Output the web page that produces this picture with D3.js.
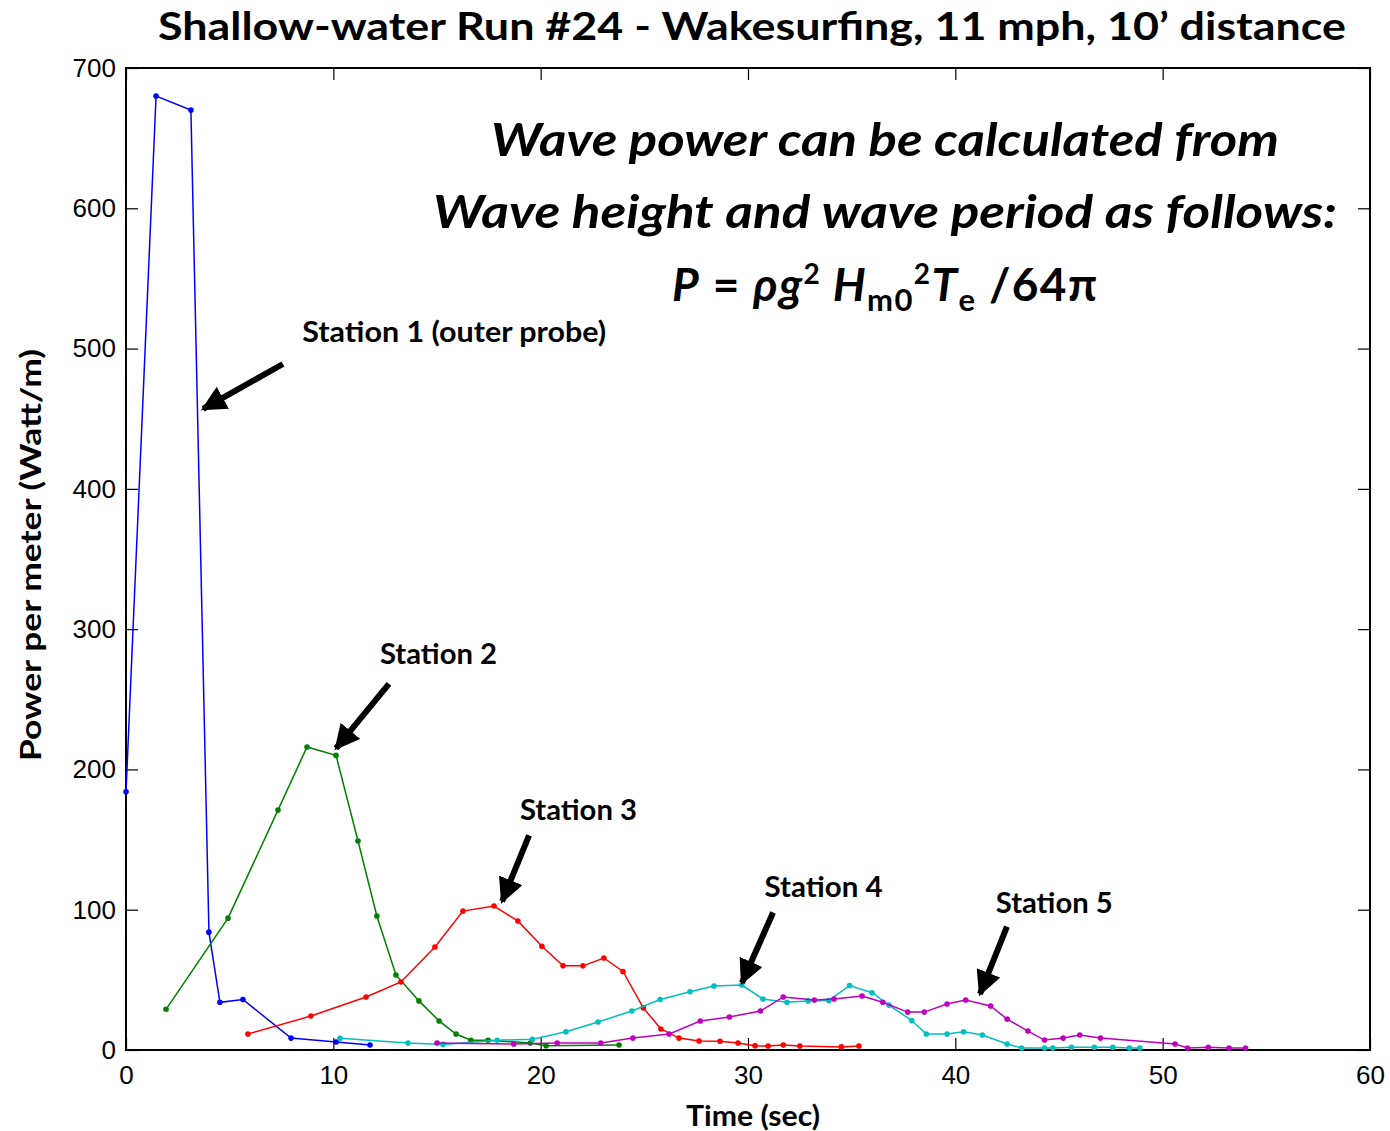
<!DOCTYPE html>
<html>
<head>
<meta charset="utf-8">
<script src="https://cdn.jsdelivr.net/npm/d3@7"></script>
<style>
  body { margin: 0; background: #fff; }
  .tick text { font-family: "Liberation Sans", Arial, sans-serif; font-size: 26px; }
  .cal { font-family: Lato, "Open Sans", sans-serif; font-weight: 700; }
</style>
</head>
<body>
<div id="chart"></div>
<script>
// Station 1 (outer probe)
var t1 = [0, 1.45, 3.13, 4.0, 4.53, 5.64, 7.96, 10.13, 11.77];
var p1 = [184, 680, 670, 84, 34, 36, 8.5, 5.7, 3.6];
// Station 2
var t2 = [1.93, 4.92, 7.33, 8.73, 10.13, 11.19, 12.1, 13.02, 14.13, 15.1, 15.92, 16.64, 17.46, 19.5, 20.26, 23.78];
var p2 = [29, 94, 171, 216, 210, 149, 95.5, 53.5, 35, 20.7, 11.4, 7, 7, 5, 3, 3.6];
// Station 3
var t3 = [5.88, 8.92, 11.58, 13.26, 14.9, 16.25, 17.75, 18.9, 20.06, 21.08, 22.04, 23.05, 23.97, 24.95, 25.8, 26.67, 27.64, 28.65, 29.52, 30.34, 30.97, 31.7, 32.5, 34.5, 35.35];
var p3 = [11.4, 24.2, 37.8, 48.5, 73.4, 99, 102.6, 92, 74, 60, 60, 65.6, 56, 30, 15, 8.5, 6.4, 6.2, 5, 3, 2.8, 3.5, 2.8, 2.2, 2.8];
// Station 4
var t4 = [10.32, 13.6, 15.29, 17.9, 19.6, 21.22, 22.77, 24.4, 25.76, 27.2, 28.36, 29.7, 30.72, 31.88, 32.9, 33.9, 34.9, 35.98, 36.8, 37.9, 38.6, 39.6, 40.4, 41.3, 42.5, 43.2, 44.3, 44.7, 45.6, 46.7, 47.6, 48.4, 48.9];
var p4 = [8.4, 5, 4, 7, 7.6, 13, 20, 27.8, 36, 41.5, 45.6, 46.3, 36.4, 34, 35, 35.3, 46, 40.8, 32, 21, 11.4, 11.4, 13, 10.7, 4.3, 1.4, 1.4, 1.4, 2, 2, 2, 1.4, 1.4];
// Station 5
var t5 = [15.0, 18.7, 20.8, 22.9, 24.45, 26.2, 27.7, 29.1, 30.6, 31.7, 33.2, 34.15, 35.5, 36.5, 37.7, 38.5, 39.6, 40.5, 41.7, 42.5, 43.5, 44.3, 45.2, 46.0, 47.0, 50.6, 51.2, 52.2, 53.2, 54.0];
var p5 = [5, 4.3, 5, 5, 8.5, 11.4, 20.7, 23.5, 27.8, 37.8, 35.6, 36.4, 38.5, 34, 27, 27, 32.8, 35.6, 31.4, 22, 13.5, 7.1, 8.5, 10.7, 8.5, 4.3, 1.4, 2, 1.4, 1.4];

var xTicks = [0, 10, 20, 30, 40, 50, 60];
var yTicks = [0, 100, 200, 300, 400, 500, 600, 700];

var series = [
  {t: t1, p: p1, color: "#0000ff"},
  {t: t2, p: p2, color: "#008000"},
  {t: t3, p: p3, color: "#ff0000"},
  {t: t4, p: p4, color: "#00bfbf"},
  {t: t5, p: p5, color: "#bf00bf"}
];

// labels with arrows, in data units: label pos, arrow start, arrow tip
var notes = [
  {text: "Station 1 (outer probe)", w: 304, lx: 8.5, ly: 505, x1: 7.57, y1: 489, x2: 3.72, y2: 457},
  {text: "Station 2", w: 117, lx: 12.25, ly: 275, x1: 12.68, y1: 261, x2: 10.13, y2: 215},
  {text: "Station 3", w: 117, lx: 19.0, ly: 164, x1: 19.44, y1: 153, x2: 18.14, y2: 106},
  {text: "Station 4", w: 118, lx: 30.8, ly: 109, x1: 31.21, y1: 98, x2: 29.71, y2: 48},
  {text: "Station 5", w: 117, lx: 41.95, ly: 97.5, x1: 42.49, y1: 88, x2: 41.19, y2: 40}
];

var width = 1390, height = 1131;
var margin = {left: 126, right: 20, top: 68, bottom: 81};

var svg = d3.select("#chart").append("svg")
  .attr("width", width)
  .attr("height", height);

var x = d3.scaleLinear().domain([0, 60]).range([margin.left, width - margin.right]);
var y = d3.scaleLinear().domain([0, 700]).range([height - margin.bottom, margin.top]);

// arrow head
svg.append("defs").append("marker")
  .attr("id", "head")
  .attr("viewBox", "0 0 10 10")
  .attr("refX", 9).attr("refY", 5)
  .attr("markerWidth", 4.2).attr("markerHeight", 4.2)
  .attr("markerUnits", "strokeWidth")
  .attr("orient", "auto")
  .append("path")
    .attr("d", "M0,0 L10,5 L0,10 z")
    .attr("fill", "#000");

// axes, matlab style inward ticks on all sides
var tl = 12;
svg.append("g")
  .attr("transform", "translate(0," + y(0) + ")")
  .call(d3.axisBottom(x).tickValues(xTicks).tickSizeInner(-tl).tickSizeOuter(0).tickPadding(16));
svg.append("g")
  .attr("transform", "translate(0," + y(700) + ")")
  .call(d3.axisTop(x).tickValues(xTicks).tickSizeInner(-tl).tickSizeOuter(0).tickFormat(""));
svg.append("g")
  .attr("transform", "translate(" + x(0) + ",0)")
  .call(d3.axisLeft(y).tickValues(yTicks).tickSizeInner(-tl).tickSizeOuter(0).tickPadding(10));
svg.append("g")
  .attr("transform", "translate(" + x(60) + ",0)")
  .call(d3.axisRight(y).tickValues(yTicks).tickSizeInner(-tl).tickSizeOuter(0).tickFormat(""));

svg.selectAll(".domain").remove();
svg.selectAll(".tick line").attr("stroke", "#000").attr("stroke-width", 1.2);
svg.append("rect")
  .attr("x", x(0)).attr("y", y(700))
  .attr("width", x(60) - x(0)).attr("height", y(0) - y(700))
  .attr("fill", "none").attr("stroke", "#000").attr("stroke-width", 2);

// lines + markers
var line = d3.line()
  .x(function(d) { return x(d[0]); })
  .y(function(d) { return y(d[1]); });

series.forEach(function(s) {
  var pts = d3.zip(s.t, s.p);
  svg.append("path")
    .datum(pts)
    .attr("d", line)
    .attr("fill", "none")
    .attr("stroke", s.color)
    .attr("stroke-width", 1.5);
  svg.selectAll(null)
    .data(pts)
    .enter()
    .append("circle")
      .attr("cx", function(d) { return x(d[0]); })
      .attr("cy", function(d) { return y(d[1]); })
      .attr("r", 2.8)
      .attr("fill", s.color);
});

// title
svg.append("text")
  .attr("class", "cal")
  .attr("x", 752).attr("y", 40)
  .attr("text-anchor", "middle")
  .attr("font-size", 39)
  .attr("textLength", 1188).attr("lengthAdjust", "spacingAndGlyphs")
  .text("Shallow-water Run #24 -  Wakesurfing, 11 mph, 10\u2019 distance");

// axis labels
svg.append("text")
  .attr("class", "cal")
  .attr("x", 753).attr("y", 1126)
  .attr("text-anchor", "middle")
  .attr("font-size", 29)
  .attr("textLength", 134).attr("lengthAdjust", "spacingAndGlyphs")
  .text("Time (sec)");
svg.append("text")
  .attr("class", "cal")
  .attr("transform", "translate(41,555) rotate(-90)")
  .attr("text-anchor", "middle")
  .attr("font-size", 28)
  .attr("textLength", 412).attr("lengthAdjust", "spacingAndGlyphs")
  .text("Power per meter (Watt/m)");

// formula note
svg.append("text")
  .attr("class", "cal")
  .attr("x", 885).attr("y", 156)
  .attr("text-anchor", "middle")
  .attr("font-size", 46).attr("font-style", "italic")
  .attr("textLength", 788).attr("lengthAdjust", "spacingAndGlyphs")
  .text("Wave power can be calculated from");
svg.append("text")
  .attr("class", "cal")
  .attr("x", 885).attr("y", 228)
  .attr("text-anchor", "middle")
  .attr("font-size", 46).attr("font-style", "italic")
  .attr("textLength", 904).attr("lengthAdjust", "spacingAndGlyphs")
  .text("Wave height and wave period as follows:");

var f = svg.append("text")
  .attr("class", "cal")
  .attr("x", 672).attr("y", 301)
  .attr("font-size", 46)
  .attr("textLength", 425).attr("lengthAdjust", "spacing");
f.append("tspan").attr("font-style", "italic").text("P");
f.append("tspan").text(" = ");
f.append("tspan").attr("font-style", "italic").text("\u03c1g");
f.append("tspan").attr("font-size", 28).attr("dy", -17).text("2");
f.append("tspan").attr("dy", 17).attr("font-style", "italic").text(" H");
f.append("tspan").attr("font-size", 31).attr("dy", 10).text("m0");
f.append("tspan").attr("font-size", 28).attr("dy", -27).text("2");
f.append("tspan").attr("dy", 17).attr("font-style", "italic").text("T");
f.append("tspan").attr("font-size", 31).attr("dy", 10).text("e");
f.append("tspan").attr("dy", -10).text(" /64\u03c0");

// station labels and arrows
svg.selectAll(".lab")
  .data(notes)
  .enter()
  .append("text")
    .attr("class", "cal")
    .attr("x", function(d) { return x(d.lx); })
    .attr("y", function(d) { return y(d.ly); })
    .attr("font-size", 28)
    .attr("textLength", function(d) { return d.w; })
    .attr("lengthAdjust", "spacingAndGlyphs")
    .text(function(d) { return d.text; });

svg.selectAll(".arr")
  .data(notes)
  .enter()
  .append("line")
    .attr("x1", function(d) { return x(d.x1); })
    .attr("y1", function(d) { return y(d.y1); })
    .attr("x2", function(d) { return x(d.x2); })
    .attr("y2", function(d) { return y(d.y2); })
    .attr("stroke", "#000")
    .attr("stroke-width", 6)
    .attr("marker-end", "url(#head)");
</script>
</body>
</html>
